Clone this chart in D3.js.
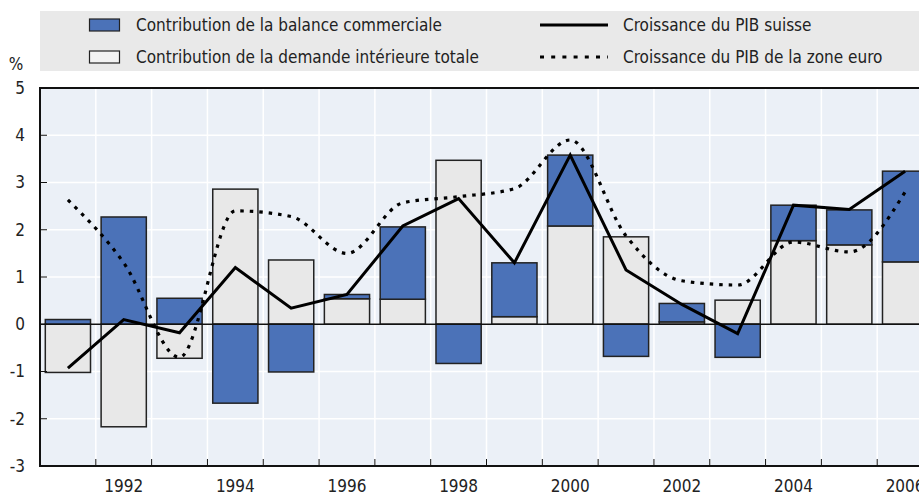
<!DOCTYPE html>
<html lang="fr">
<head>
    <meta charset="UTF-8">
    <title>Contributions à la croissance du PIB</title>
    <script src="https://d3js.org/d3.v7.min.js"></script>
    <style>
        body { margin: 0; background: #fff; }
        text {
            font-family: "Liberation Sans Narrow", "DejaVu Sans Condensed", "Arial Narrow", sans-serif;
            font-size: 17px;
            fill: #222;
        }
    </style>
</head>
<body>
    <script>
        // Data
        const years = [1991, 1992, 1993, 1994, 1995, 1996, 1997, 1998, 1999, 2000, 2001, 2002, 2003, 2004, 2005, 2006];
        const tradeBalance = [0.1, 2.27, 0.55, -1.67, -1.01, 0.09, 1.53, -0.83, 1.14, 1.5, -0.68, 0.39, -0.7, 0.75, 0.74, 1.92];
        const domesticDemand = [-1.02, -2.17, -0.72, 2.86, 1.36, 0.54, 0.53, 3.47, 0.16, 2.08, 1.85, 0.05, 0.51, 1.77, 1.68, 1.32];
        const gdpSwiss = [-0.93, 0.1, -0.18, 1.2, 0.34, 0.63, 2.08, 2.66, 1.3, 3.58, 1.15, 0.42, -0.2, 2.52, 2.43, 3.24];
        const gdpEuro = [2.63, 1.3, -0.7, 2.4, 2.28, 1.5, 2.57, 2.7, 2.87, 3.9, 1.87, 0.92, 0.83, 1.74, 1.53, 2.8];
        const yTicks = [-3, -2, -1, 0, 1, 2, 3, 4, 5];

        const width = 919, height = 496;
        const mLeft = 40, mTop = 88, mBottom = 466, mRight = 933;
        const blue = "#4b72b8", grey = "#e8e8e8", stroke = "#222";

        const svg = d3.select("body").append("svg")
            .attr("width", width)
            .attr("height", height);

        const x = d3.scaleBand().domain(years).range([mLeft, mRight]).paddingInner(0.19).paddingOuter(0.095);
        const step = x.step();
        const y = d3.scaleLinear().domain([-3, 5]).range([mBottom, mTop]);

        // Legend
        const leg = svg.append("g");
        leg.append("rect").attr("x", 40).attr("y", 11).attr("width", 900).attr("height", 60).attr("fill", "#e9e9e9");
        const legRows = [25, 57];
        leg.append("rect").attr("x", 89.5).attr("y", legRows[0] - 6).attr("width", 30).attr("height", 12)
            .attr("fill", blue).attr("stroke", stroke).attr("stroke-width", 1.2);
        leg.append("rect").attr("x", 89.5).attr("y", legRows[1] - 6).attr("width", 30).attr("height", 12)
            .attr("fill", "#f2f2f2").attr("stroke", stroke).attr("stroke-width", 1.2);
        leg.append("text").attr("x", 136).attr("y", legRows[0]).attr("dy", "0.35em").text("Contribution de la balance commerciale");
        leg.append("text").attr("x", 136).attr("y", legRows[1]).attr("dy", "0.35em").text("Contribution de la demande intérieure totale");
        leg.append("line").attr("x1", 540).attr("x2", 608).attr("y1", legRows[0]).attr("y2", legRows[0])
            .attr("stroke", "#000").attr("stroke-width", 3);
        leg.append("line").attr("x1", 540).attr("x2", 608).attr("y1", legRows[1]).attr("y2", legRows[1])
            .attr("stroke", "#000").attr("stroke-width", 3).attr("stroke-dasharray", "4,7.2");
        leg.append("text").attr("x", 623).attr("y", legRows[0]).attr("dy", "0.35em").text("Croissance du PIB suisse");
        leg.append("text").attr("x", 623).attr("y", legRows[1]).attr("dy", "0.35em").text("Croissance du PIB de la zone euro");

        // Plot background and grid
        svg.append("rect").attr("x", mLeft).attr("y", mTop).attr("width", mRight - mLeft).attr("height", mBottom - mTop)
            .attr("fill", "#ebf0f7");
        const grid = svg.append("g").attr("stroke", "#fff").attr("stroke-width", 1.5);
        grid.selectAll("line.h").data(yTicks.filter(d => d > -3 && d < 5)).join("line")
            .attr("class", "h")
            .attr("x1", mLeft).attr("x2", mRight)
            .attr("y1", d => y(d)).attr("y2", d => y(d));
        grid.selectAll("line.v").data(years.slice(1)).join("line")
            .attr("class", "v")
            .attr("x1", d => x(d) - step * 0.095).attr("x2", d => x(d) - step * 0.095)
            .attr("y1", mTop).attr("y2", mBottom);

        // Stacked bars: positives upward, negatives downward
        const bars = svg.append("g");
        years.forEach((yr, i) => {
            const parts = [
                { v: domesticDemand[i], fill: grey },
                { v: tradeBalance[i], fill: blue }
            ];
            let pos = 0, neg = 0;
            parts.forEach(p => {
                let y0, y1;
                if (p.v >= 0) { y0 = pos; y1 = pos + p.v; pos = y1; }
                else { y0 = neg; y1 = neg + p.v; neg = y1; }
                bars.append("rect")
                    .attr("x", x(yr))
                    .attr("width", x.bandwidth())
                    .attr("y", y(Math.max(y0, y1)))
                    .attr("height", Math.abs(y(y0) - y(y1)))
                    .attr("fill", p.fill)
                    .attr("stroke", stroke)
                    .attr("stroke-width", 1.5);
            });
        });

        // Zero line
        svg.append("line").attr("x1", mLeft).attr("x2", mRight).attr("y1", y(0)).attr("y2", y(0))
            .attr("stroke", "#111").attr("stroke-width", 1.5);

        // Lines
        const cx = d => x(d) + x.bandwidth() / 2;
        const euroLine = d3.line().x((d, i) => cx(years[i])).y(d => y(d)).curve(d3.curveMonotoneX);
        const swissLine = d3.line().x((d, i) => cx(years[i])).y(d => y(d));
        svg.append("path").datum(gdpEuro).attr("d", euroLine)
            .attr("fill", "none").attr("stroke", "#000").attr("stroke-width", 3.2)
            .attr("stroke-dasharray", "3.5,6");
        svg.append("path").datum(gdpSwiss).attr("d", swissLine)
            .attr("fill", "none").attr("stroke", "#000").attr("stroke-width", 3);

        // Axes frame
        svg.append("line").attr("x1", mLeft).attr("x2", mRight).attr("y1", mTop).attr("y2", mTop)
            .attr("stroke", "#111").attr("stroke-width", 2);
        svg.append("line").attr("x1", mLeft).attr("x2", mRight).attr("y1", mBottom).attr("y2", mBottom)
            .attr("stroke", "#111").attr("stroke-width", 2);
        svg.append("line").attr("x1", mLeft).attr("x2", mLeft).attr("y1", mTop - 1).attr("y2", mBottom + 1)
            .attr("stroke", "#111").attr("stroke-width", 2);

        // Y ticks and labels
        const yAxis = svg.append("g");
        yAxis.selectAll("line").data(yTicks).join("line")
            .attr("x1", mLeft).attr("x2", mLeft + 7)
            .attr("y1", d => y(d)).attr("y2", d => y(d))
            .attr("stroke", "#111").attr("stroke-width", 1);
        yAxis.selectAll("text").data(yTicks).join("text")
            .attr("x", 25).attr("y", d => y(d)).attr("dy", "0.35em")
            .attr("text-anchor", "end")
            .text(d => d);
        svg.append("text").attr("x", 16).attr("y", 64).attr("dy", "0.35em").attr("text-anchor", "middle").text("%");

        // X ticks and labels
        const xAxis = svg.append("g");
        xAxis.selectAll("line").data(years.slice(1)).join("line")
            .attr("x1", d => x(d) - step * 0.095).attr("x2", d => x(d) - step * 0.095)
            .attr("y1", mBottom).attr("y2", mBottom - 7)
            .attr("stroke", "#111").attr("stroke-width", 1);
        xAxis.selectAll("text").data(years.filter(d => d % 2 === 0)).join("text")
            .attr("x", d => cx(d)).attr("y", 486).attr("dy", "0.35em")
            .attr("text-anchor", "middle")
            .text(d => d);
    </script>
</body>
</html>
